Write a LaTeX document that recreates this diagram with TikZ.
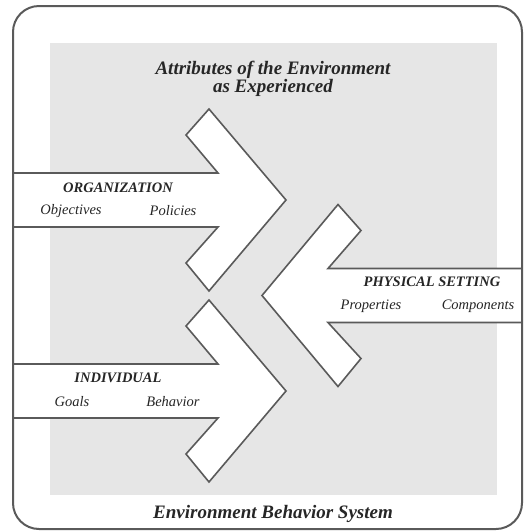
\documentclass[tikz,border=0pt]{standalone}
\usepackage{fontspec}
\setmainfont{Liberation Serif}
\usetikzlibrary{calc,
positioning}

\definecolor{edgegray}{HTML}{5A5A5A}
\definecolor{fieldgray}{HTML}{E6E6E6}

\begin{document}
\begin{tikzpicture} [x=1pt,
    y=-1pt,
    every node/.style={inner sep=0pt, text=black!85},
    frame line/.style={draw = edgegray, line width = 2pt},
    big arrow/.style={draw = edgegray, fill = white, line width = 1.6pt,
        line join = miter},
    title text/.style={font={\fontsize{19}{16.5}\selectfont\bfseries\itshape},
        align=center},
    head text/.style={font={\fontsize{14.5}{14.5}\selectfont\bfseries\itshape}},
    item text/.style={font={\fontsize{14.5}{14.5}\selectfont\itshape}}
  ]

  \useasboundingbox (0,0) rectangle (528,531);

  % grey field
  \fill [fieldgray] (50,43) rectangle (497,495);

  % right pointing arrows
  \foreach \c/\name in {200/orgarrow, 391/indarrow} {
    \draw [big arrow]
      (13,\c-27) -- (218,\c-27) -- (186,\c-65) -- (209,\c-91)
      -- (286,\c) coordinate (\name)
      -- (209,\c+91) -- (186,\c+63) -- (218,\c+27) -- (13,\c+27);
  }

  % left pointing arrow
  \def\c{295.5}
  \draw [big arrow]
    (522,\c-27) -- (328,\c-27) -- (361,\c-65) -- (338,\c-91)
    -- (262,\c) coordinate (physarrow)
    -- (338,\c+91) -- (361,\c+63) -- (328,\c+27) -- (522,\c+27);

  % outer frame
  \draw [frame line, rounded corners = 26pt] (13,6) rectangle (522,529);

  \node [title text] (attr) at (273,79) {Attributes of the Environment\\as Experienced};

  \node [head text] (org) at (118,188) {ORGANIZATION};
  \node [item text] (obj) at (71,211) {Objectives};
  \node [item text] (pol) at (173,211) {Policies};

  \node [head text] (ind) at (118,378) {INDIVIDUAL};
  \node [item text] (goal) at (72,402) {Goals};
  \node [item text] (beh) at (173,402) {Behavior};

  \node [head text] (phys) at (432,282) {PHYSICAL SETTING};
  \node [item text] (prop) at (371,306) {Properties};
  \node [item text] (comp) at (478,306) {Components};

  \node [title text] (ebs) at (273,514) {Environment Behavior System};

\end{tikzpicture}
\end{document}
